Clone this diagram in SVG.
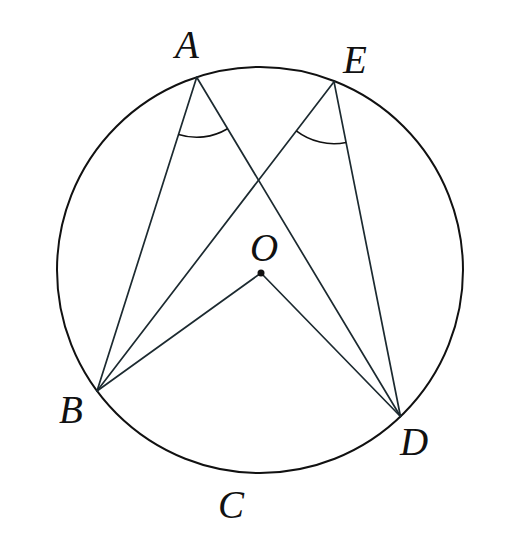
<svg xmlns="http://www.w3.org/2000/svg" width="521" height="536" viewBox="0 0 521 536">
<style>
.ln{stroke:#1c2a30;stroke-width:1.7;fill:none;stroke-linecap:round}
.arc{stroke:#111;stroke-width:1.6;fill:none}
.lb{font-family:"Liberation Serif","Times New Roman",serif;font-style:italic;font-size:39px;fill:#111}
</style>
<rect width="521" height="536" fill="#fff"/>
<g id="circle"><circle cx="260" cy="270" r="203" fill="none" stroke="#111" stroke-width="2"/></g>
<g id="connectors">
<line class="ln" x1="196.7" y1="77.3" x2="97" y2="391"/>
<line class="ln" x1="196.7" y1="77.3" x2="400.5" y2="416.5"/>
<line class="ln" x1="334" y1="81.7" x2="97" y2="391"/>
<line class="ln" x1="334" y1="81.7" x2="400.5" y2="416.5"/>
<line class="ln" x1="261" y1="273" x2="97" y2="391"/>
<line class="ln" x1="261" y1="273" x2="400.5" y2="416.5"/>
<path class="arc" d="M178.6,134.5 A60,60 0 0 0 227.5,128.8"/>
<path class="arc" d="M296.3,130.9 A62,62 0 0 0 346.1,142.5"/>
</g>
<g id="O"><circle cx="261" cy="273" r="3.5" fill="#111"/><text class="lb" x="250" y="261">O</text></g>
<g id="A"><text class="lb" x="175" y="58">A</text></g>
<g id="E"><text class="lb" x="343" y="73">E</text></g>
<g id="B"><text class="lb" x="59" y="423">B</text></g>
<g id="D"><text class="lb" x="400" y="455">D</text></g>
<g id="C"><text class="lb" x="218" y="518">C</text></g>
</svg>
